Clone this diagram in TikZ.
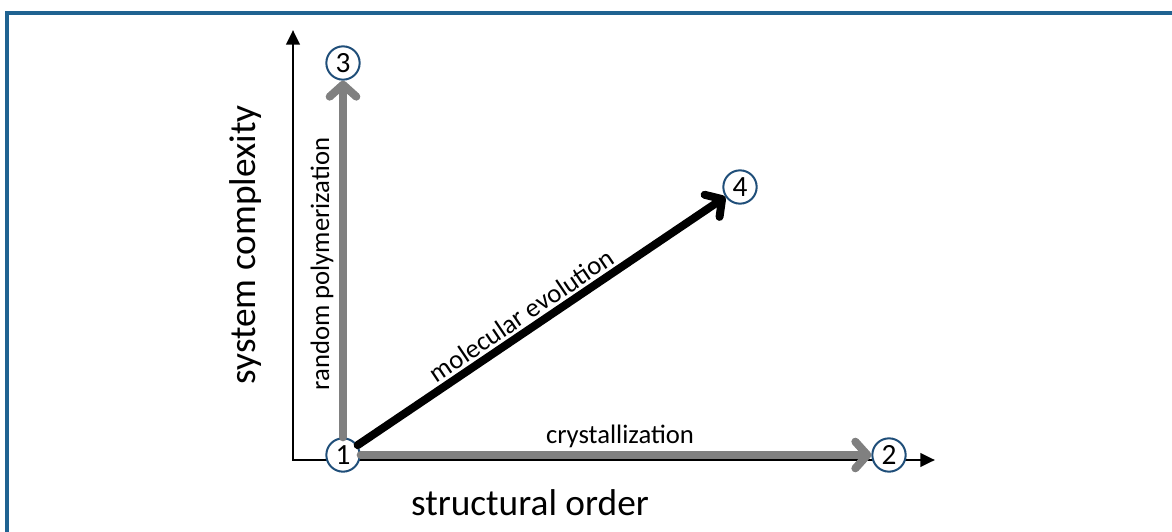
\documentclass[tikz,border=0pt]{standalone}
\usepackage{fontspec}
\setmainfont{Carlito}
\usetikzlibrary{arrows.meta}
\definecolor{frameblue}{HTML}{1F6391}
\definecolor{ringblue}{HTML}{1F4E79}
\definecolor{pathgray}{HTML}{808080}

\begin{document}
\begin{tikzpicture}[x=0.75pt,y=-0.75pt,state/.style={circle,draw=ringblue,line width=1.5pt,fill=white,minimum size=25pt,inner sep=0pt,font=\fontsize{22}{22}\selectfont},axis/.style={line width=2.2pt},route/.style={line width=6pt,draw=pathgray,line cap=round,-{Straight Barb[length=9pt,width=20pt,round]}},axislabel/.style={font=\fontsize{28}{28}\selectfont},routelabel/.style={font=\fontsize{20}{20}\selectfont}]
\useasboundingbox (0,0) rectangle (1172,532);
\draw[frameblue,line width=2.5pt] (7,532) -- (7,13) -- (1172,13);
\coordinate (O) at (293,460);
\coordinate (ytop) at (293,30);
\coordinate (xend) at (935,460);
\draw[axis,{Triangle[length=11pt,width=10pt]}-{Triangle[length=11pt,width=10pt]}] (ytop) -- (O) -- (xend);
\node[state] (s1) at (343,455) {1};
\node[state] (s2) at (889,455) {2};
\node[state] (s3) at (343,63) {3};
\node[state] (s4) at (740,187) {4};
\draw[route] (s1) -- (s3);
\draw[route] (s1) -- (s2);
\draw[route,draw=black] (s1) -- node[routelabel,sloped,above,pos=0.47,inner sep=2pt] {molecular evolution} (s4);
\node[axislabel,rotate=90] (ylab) at (246,245) {system complexity};
\node[axislabel] (xlab) at (530,503) {structural order};
\node[routelabel,rotate=90] (rlab) at (322,264) {random polymerization};
\node[routelabel] (clab) at (620,436) {crystallization};
\end{tikzpicture}
\end{document}
